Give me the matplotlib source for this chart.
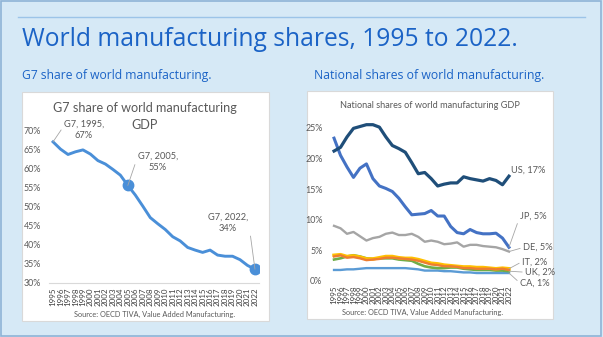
import numpy as np
import matplotlib
matplotlib.use('Agg')
from matplotlib import pyplot as plt
from matplotlib.patches import Rectangle

years = [str(y) for y in range(1995, 2023)]

# G7 share of world manufacturing GDP (%)
g7 = [66.9, 65.0, 63.6, 64.3, 64.8, 63.7, 62.0, 61.1, 59.7, 58.2,
      55.5, 53.0, 50.1, 47.1, 45.5, 44.0, 42.1, 41.0, 39.3, 38.6,
      38.0, 38.6, 37.3, 37.0, 37.0, 36.1, 34.6, 33.6]

# national shares (%)
us = [21.2, 21.8, 23.5, 24.9, 25.2, 25.5, 25.5, 25.1, 23.5, 22.1,
      21.6, 21.0, 19.3, 17.5, 17.7, 16.7, 15.5, 15.8, 16.0, 16.0,
      17.0, 16.7, 16.5, 16.3, 16.7, 16.4, 15.7, 17.1]
jp = [23.3, 20.5, 18.6, 16.9, 18.4, 19.1, 16.7, 15.5, 15.1, 14.6,
      13.5, 12.1, 10.8, 10.9, 11.0, 11.5, 10.6, 10.6, 8.9, 7.9,
      7.7, 8.4, 7.9, 7.7, 7.7, 7.8, 7.0, 5.5]
de = [9.0, 8.6, 7.7, 8.0, 7.3, 6.6, 7.0, 7.2, 7.7, 7.9,
      7.5, 7.5, 7.7, 7.2, 6.4, 6.6, 6.4, 6.0, 6.1, 6.3,
      5.6, 5.9, 5.9, 5.7, 5.6, 5.5, 5.2, 4.8]
fr = [4.0, 4.2, 3.8, 3.9, 3.7, 3.4, 3.5, 3.6, 3.8, 3.8,
      3.7, 3.6, 3.5, 3.3, 3.0, 2.7, 2.6, 2.4, 2.4, 2.3,
      2.1, 2.1, 2.0, 2.0, 2.0, 1.9, 2.0, 1.8]
it = [4.2, 4.3, 4.0, 4.1, 3.9, 3.6, 3.6, 3.8, 4.0, 4.0,
      3.8, 3.7, 3.7, 3.5, 3.2, 2.9, 2.8, 2.6, 2.5, 2.4,
      2.3, 2.3, 2.2, 2.2, 2.1, 2.0, 2.1, 2.0]
uk = [3.5, 3.7, 4.0, 4.2, 4.0, 3.7, 3.6, 3.7, 3.7, 3.7,
      3.5, 3.4, 3.3, 2.8, 2.4, 2.2, 2.1, 2.1, 2.2, 2.2,
      2.0, 1.9, 1.8, 1.8, 1.8, 1.7, 1.7, 1.6]
ca = [1.8, 1.8, 1.9, 1.9, 2.0, 2.1, 2.1, 2.1, 2.1, 2.1,
      2.1, 2.1, 2.0, 1.9, 1.7, 1.7, 1.7, 1.6, 1.6, 1.5,
      1.4, 1.4, 1.3, 1.3, 1.3, 1.3, 1.3, 1.3]

W, H = 603, 337
BG = '#d6e9f6'
BLUE_TXT = '#1b63c6'
GREY_TXT = '#595959'
CHART_FONT = ['Lato', 'DejaVu Sans']


def px(x, y, w=0, h=0):
    # pixel box (top-left origin) -> figure fraction
    return [x / W, 1 - (y + h) / H, w / W, h / H]


fig = plt.figure(figsize=(W / 100, H / 100), dpi=100, facecolor=BG)

# frame and header rule
fig.patches.append(Rectangle((0.002, 0.003), 0.995, 0.994, transform=fig.transFigure,
                             fill=False, edgecolor='#8fb3d6', lw=1.2, zorder=-2))
fig.add_artist(plt.Line2D([18 / W, 585 / W], [1 - 17 / H] * 2, color='#9cc4e8', lw=1))
fig.text(22 / W, 1 - 39 / H, 'World manufacturing shares, 1995 to 2022.', fontsize=17.7,
         family=['Open Sans', 'DejaVu Sans'], color=BLUE_TXT, va='center', ha='left')
fig.text(22 / W, 1 - 76 / H, 'G7 share of world manufacturing.', fontsize=8.7,
         family=['Open Sans', 'DejaVu Sans'], color=BLUE_TXT, va='center', ha='left')
fig.text(314 / W, 1 - 76 / H, 'National shares of world manufacturing.', fontsize=8.8,
         family=['Open Sans', 'DejaVu Sans'], color=BLUE_TXT, va='center', ha='left')

# white chart panels
for (x0, y0, w0, h0) in [(22, 92, 247, 229), (307, 91, 246, 228)]:
    l, b, w, h = px(x0, y0, w0, h0)
    fig.patches.append(Rectangle((l, b), w, h, transform=fig.transFigure,
                                 facecolor='white', edgecolor='#d9d9d9', lw=0.8, zorder=-1))

x = np.arange(len(years))

# ---- left chart: G7 ----
ax1 = fig.add_axes(px(49.3, 130, 209.4, 153))
ax1.set_facecolor('none')
ax1.plot(x, g7, color='#4a8fd8', lw=2.1)
ax1.plot([x[10], x[-1]], [g7[10], g7[-1]], 'o', color='#4a8fd8', ms=7.5, ls='none')
ax1.set_xlim(-0.5, len(years) - 0.5)
ax1.set_ylim(30, 70)
ax1.set_yticks(range(30, 71, 5))
ax1.set_yticklabels([f'{v}%' for v in range(30, 71, 5)])
ax1.set_xticks(x)
ax1.set_xticklabels(years, rotation=90)
ax1.tick_params(axis='y', length=0, pad=6, labelsize=6.4, labelcolor=GREY_TXT)
ax1.tick_params(axis='x', length=0, pad=3, labelsize=5.8, labelcolor='#404040')
for t in ax1.get_xticklabels() + ax1.get_yticklabels():
    t.set_family(CHART_FONT)
for s in ['top', 'right', 'left']:
    ax1.spines[s].set_visible(False)
ax1.spines['bottom'].set_color('#d9d9d9')

lead = dict(arrowstyle='-', color='#a6a6a6', lw=0.6, shrinkA=0, shrinkB=0)
ann = dict(textcoords='offset pixels', fontsize=6.7, color=GREY_TXT, family=CHART_FONT,
           linespacing=1.3, va='center')
ax1.annotate('G7, 1995,\n67%', xy=(x[0], g7[0]), xytext=(31, 12), ha='center',
             arrowprops=dict(lead, relpos=(0, 0.7)), **ann)
ax1.annotate('G7, 2005,\n55%', xy=(x[10], g7[10]), xytext=(30, 24), ha='center',
             arrowprops=dict(lead, relpos=(0, 0.75)), **ann)
ax1.annotate('G7, 2022,\n34%', xy=(x[-1], g7[-1]), xytext=(-27, 46), ha='center',
             arrowprops=dict(lead, relpos=(1, 0.75)), **ann)

fig.text(145 / W, 1 - 108 / H, 'G7 share of world manufacturing', ha='center', va='center',
         fontsize=9.1, color=GREY_TXT, family=CHART_FONT)
fig.text(145 / W, 1 - 125 / H, 'GDP', ha='center', va='center',
         fontsize=9.1, color=GREY_TXT, family=CHART_FONT)
fig.text(155 / W, 1 - 314 / H, 'Source: OECD TIVA, Value Added Manufacturing.', ha='center',
         va='center', fontsize=5.3, color=GREY_TXT, family=CHART_FONT)

# ---- right chart: national shares ----
ax2 = fig.add_axes(px(330.8, 281 - 27 * 6.13, 181.4, 27 * 6.13))
ax2.set_facecolor('none')
series = [
    (ca, '#5b9bd5', 1.7, 'CA, 1%', (11, -10)),
    (uk, '#70ad47', 1.9, 'UK, 2%', (16, -1)),
    (it, '#ffc000', 2.5, 'IT, 2%', (13, 7)),
    (fr, '#ed7d31', 1.7, None, None),
    (de, '#a5a5a5', 1.7, 'DE, 5%', (14, 4)),
    (jp, '#4472c4', 2.2, 'JP, 5%', (11, 31)),
    (us, '#1f4e79', 2.3, 'US, 17%', (2, 6)),
]
for vals, col, lw, lab, off in series:
    ax2.plot(x, vals, color=col, lw=lw)
for vals, col, lw, lab, off in series:
    if lab is None:
        continue
    props = None if lab.startswith('US') else dict(lead, relpos=(0, 0.5))
    ax2.annotate(lab, xy=(x[-1], vals[-1]), xytext=off, ha='left',
                 arrowprops=props, annotation_clip=False, **ann)
ax2.set_xlim(-0.5, len(years) - 0.5)
ax2.set_ylim(0, 27)
ax2.set_yticks(range(0, 26, 5))
ax2.set_yticklabels([f'{v}%' for v in range(0, 26, 5)])
ax2.set_xticks(x)
ax2.set_xticklabels(years, rotation=90)
ax2.tick_params(axis='y', length=0, pad=6, labelsize=6.4, labelcolor=GREY_TXT)
ax2.tick_params(axis='x', length=0, pad=3, labelsize=5.8, labelcolor='#404040')
for t in ax2.get_xticklabels() + ax2.get_yticklabels():
    t.set_family(CHART_FONT)
for s in ['top', 'right', 'left', 'bottom']:
    ax2.spines[s].set_visible(False)

fig.text(430 / W, 1 - 105 / H, 'National shares of world manufacturing GDP', ha='center',
         va='center', fontsize=6.6, color=GREY_TXT, family=CHART_FONT)
fig.text(423 / W, 1 - 312 / H, 'Source: OECD TIVA, Value Added Manufacturing.', ha='center',
         va='center', fontsize=5.3, color=GREY_TXT, family=CHART_FONT)

fig.savefig('out.png', dpi=100, facecolor=BG)
